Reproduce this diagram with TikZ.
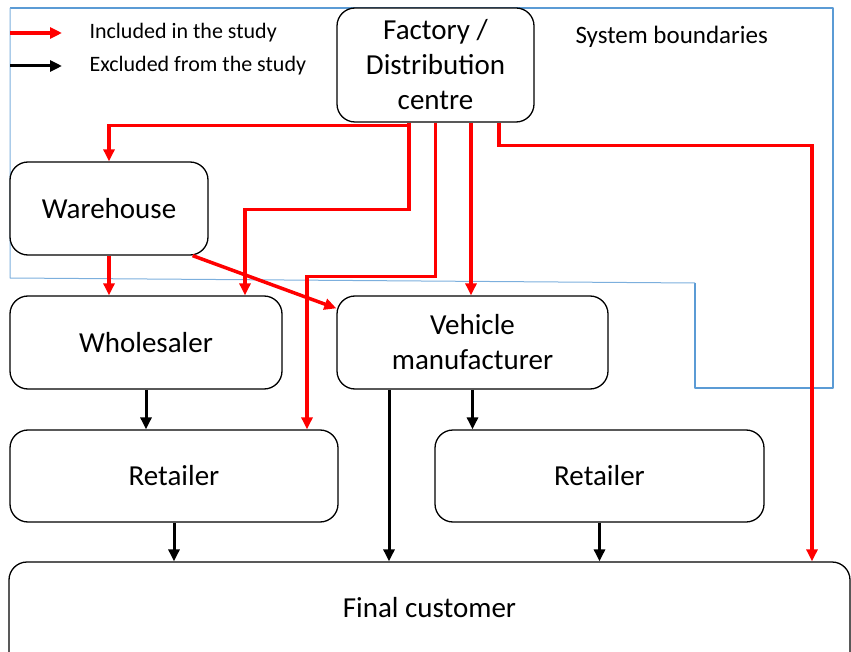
\documentclass[tikz,border=0pt]{standalone}
\usepackage{fontspec}
\setmainfont{Carlito}
\usetikzlibrary{arrows.meta, positioning}

\definecolor{boundblue}{RGB}{91,155,213}

\begin{document}
\begin{tikzpicture}[x=1pt, y=-1pt,
    box/.style={draw, line width=1.3pt, rounded corners=18pt, fill=white,
        align=center, inner sep=0pt, font=\fontsize{29}{35}\selectfont},
    incl/.style={draw=red, line width=3.5pt, -{Triangle[length=12pt,width=11pt]}},
    excl/.style={draw=black, line width=3pt, -{Triangle[length=12pt,width=11pt]}},
    boundary/.style={draw=boundblue, line width=2pt, line join=round}]

    \useasboundingbox (0,0) rectangle (851,652);

    % Draw the system boundaries
    \draw[boundary] (10,8) -- (833,8) -- (833,388) -- (695,388) -- (695,283);
    \draw[boundary, line width=1pt, draw=boundblue!80] (695,283) -- (10,278) -- (10,8);
    \node[anchor=west, font=\fontsize{25}{30}\selectfont] (sysb) at (572,37) {System boundaries};

    % Legend
    \coordinate (la1) at (10,33);
    \coordinate (lb1) at (62,33);
    \coordinate (la2) at (10,66);
    \coordinate (lb2) at (62,66);
    \draw[incl] (la1) -- (lb1);
    \draw[excl] (la2) -- (lb2);
    \node[anchor=west, font=\fontsize{22}{26}\selectfont] (linc) at (86,33) {Included in the study};
    \node[anchor=west, font=\fontsize{22}{26}\selectfont] (lexc) at (86,66) {Excluded from the study};

    % Add the boxes
    \node[box, minimum width=197pt, minimum height=114pt] (factory) at (435.5,65) {Factory /\\Distribution\\centre};
    \node[box, minimum width=198pt, minimum height=93pt] (warehouse) at (109,208.5) {Warehouse};
    \node[box, minimum width=272pt, minimum height=93pt] (wholesaler) at (146,342.5) {Wholesaler};
    \node[box, minimum width=271pt, minimum height=93pt] (vehicle) at (472.5,342.5) {Vehicle\\manufacturer};
    \node[box, minimum width=328pt, minimum height=92pt] (retailerL) at (174,476) {Retailer};
    \node[box, minimum width=329pt, minimum height=92pt] (retailerR) at (599.5,476) {Retailer};
    \node[box, minimum width=841pt, minimum height=110pt, text depth=0pt] (final) at (429.5,617) {\raisebox{20pt}{Final customer}};

    % Flows included in the study
    \draw[incl] ([xshift=-26.5pt]factory.south) -- ++(0,3) -| (warehouse.north);
    \draw[incl] ([xshift=-26.5pt]factory.south) -- ++(0,87) -| ([xshift=99pt]wholesaler.north);
    \draw[incl] (factory.south) -- ++(0,154) -| ([xshift=133pt]retailerL.north);
    \draw[incl] ([xshift=35.5pt]factory.south) -- ([xshift=35.5pt]factory.south |- vehicle.north);
    \draw[incl] ([xshift=63.5pt]factory.south) -- ++(0,23) -| ([xshift=382.5pt]final.north);
    \draw[incl] (warehouse.south) -- (warehouse.south |- wholesaler.north);
    \draw[incl] ([xshift=-16pt]warehouse.south east) -- ([yshift=-13pt]vehicle.north west);

    % Flows excluded from the study
    \draw[excl] (wholesaler.south) -- (wholesaler.south |- retailerL.north);
    \draw[excl] ([xshift=-83.5pt]vehicle.south) -- ([xshift=-83.5pt]vehicle.south |- final.north);
    \draw[excl] (vehicle.south) -- (vehicle.south |- retailerR.north);
    \draw[excl] (retailerL.south) -- (retailerL.south |- final.north);
    \draw[excl] (retailerR.south) -- (retailerR.south |- final.north);

\end{tikzpicture}
\end{document}
